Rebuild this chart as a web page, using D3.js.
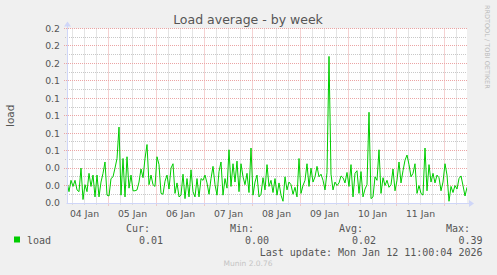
<!DOCTYPE html>
<html>
<head>
<meta charset="utf-8">
<script src="https://cdn.jsdelivr.net/npm/d3@7"></script>
<style>
  body { margin: 0; background: #f0f0f0; }
  svg { display: block; }
</style>
</head>
<body>
<svg id="chart" width="497" height="275"></svg>
<script>
// hourly load average, starting 04 Jan 2026 03:15 UTC
var loadValues = [
    0.024, 0.013, 0.026, 0.019, 0.026, 0.015, 0.013, 0.040, 0.004, 0.021,
    0.013, 0.034, 0.019, 0.032, 0.007, 0.032, 0.007, 0.024, 0.034, 0.047,
    0.009, 0.008, 0.028, 0.030, 0.040, 0.051, 0.087, 0.009, 0.051, 0.007,
    0.053, 0.017, 0.032, 0.014,
    0.014, 0.015, 0.024, 0.039, 0.029, 0.051, 0.067, 0.021, 0.032, 0.021,
    0.019, 0.053, 0.044, 0.011, 0.010, 0.025, 0.032, 0.016, 0.040, 0.045,
    0.011, 0.023, 0.007, 0.009, 0.033, 0.005, 0.028, 0.007, 0.038, 0.013,
    0.007, 0.028, 0.007, 0.028,
    0.026, 0.032, 0.023, 0.010, 0.028, 0.042, 0.021, 0.009, 0.036, 0.047,
    0.009, 0.028, 0.017, 0.061, 0.019, 0.045, 0.024, 0.048, 0.013, 0.045,
    0.030, 0.021, 0.034, 0.012, 0.063, 0.009, 0.024, 0.032, 0.007, 0.010,
    0.029, 0.015, 0.044, 0.019,
    0.026, 0.012, 0.028, 0.009, 0.023, 0.009, 0.002, 0.030, 0.015, 0.024,
    0.021, 0.010, 0.018, 0.007, 0.051, 0.011, 0.020, 0.026, 0.045, 0.019,
    0.040, 0.024, 0.030, 0.042, 0.030, 0.033, 0.026, 0.015, 0.035, 0.168,
    0.033, 0.015, 0.024, 0.020,
    0.023, 0.031, 0.029, 0.023, 0.035, 0.019, 0.044, 0.007, 0.034, 0.037,
    0.011, 0.036, 0.007, 0.016, 0.021, 0.104, 0.005, 0.007, 0.030, 0.026,
    0.061, 0.011, 0.029, 0.020, 0.026, 0.018, 0.021, 0.039, 0.014, 0.026,
    0.047, 0.023, 0.037, 0.049,
    0.055, 0.044, 0.030, 0.034, 0.045, 0.011, 0.020, 0.011, 0.009, 0.063,
    0.014, 0.044, 0.024, 0.034, 0.023, 0.032, 0.029, 0.014, 0.024, 0.045,
    0.032, 0.002, 0.019, 0.012, 0.020, 0.016, 0.028, 0.031, 0.020, 0.008,
    0.018
];
var startTime = Date.UTC(2026, 0, 4, 3, 15);
var stepMs = 3600 * 1000;

var yTicks = [0, 0.02, 0.04, 0.06, 0.08, 0.10, 0.12, 0.14, 0.16, 0.18, 0.20];
var yMinorTicks = [0.01, 0.03, 0.05, 0.07, 0.09, 0.11, 0.13, 0.15, 0.17, 0.19];

var legendHeaders = ['Cur:', 'Min:', 'Avg:', 'Max:'];
var legendValues = ['0.01', '0.00', '0.02', '0.39'];
var lastUpdate = 'Last update: Mon Jan 12 11:00:04 2026';

var data = loadValues.map((v, i) => ({ t: new Date(startTime + i * stepMs), v: v }));

var plot = { left: 67, right: 467, top: 28.5, bottom: 203 };
var sans = 'DejaVu Sans, sans-serif';
var mono = 'DejaVu Sans Mono, monospace';
var textColor = '#555';
var axisColor = '#cfd6f8';

var svg = d3.select('#chart');

var x = d3.scaleUtc()
    .domain([data[0].t, data[data.length - 1].t])
    .range([plot.left, plot.right]);
var y = d3.scaleLinear()
    .domain([0, 0.2])
    .range([plot.bottom, plot.top]);

var crisp = v => Math.round(v - 0.5) + 0.5;

// plot background
svg.append('rect')
    .attr('x', plot.left).attr('y', plot.top)
    .attr('width', plot.right - plot.left).attr('height', plot.bottom - plot.top)
    .attr('fill', '#fff');

var grid = svg.append('g').attr('stroke-width', 1).attr('stroke-dasharray', '1,1');

// minor grid
var sixHours = d3.utcHour.every(6).range(x.domain()[0], x.domain()[1]);
grid.selectAll('.vmin')
    .data(sixHours.filter(d => d.getUTCHours() !== 0))
    .join('line')
    .attr('x1', d => crisp(x(d))).attr('x2', d => crisp(x(d)))
    .attr('y1', plot.top).attr('y2', plot.bottom + 2)
    .attr('stroke', '#c8c8c8');
grid.selectAll('.hmin')
    .data(yMinorTicks)
    .join('line')
    .attr('x1', plot.left - 2).attr('x2', plot.right)
    .attr('y1', d => crisp(y(d))).attr('y2', d => crisp(y(d)))
    .attr('stroke', '#c8c8c8');

// major grid
var midnights = d3.utcDay.range(x.domain()[0], x.domain()[1]);
grid.append('g').selectAll('line')
    .data(midnights)
    .join('line')
    .attr('x1', d => crisp(x(d))).attr('x2', d => crisp(x(d)))
    .attr('y1', plot.top).attr('y2', plot.bottom + 3)
    .attr('stroke', '#eba4a4');
grid.append('g').selectAll('line')
    .data(yTicks.slice(1))
    .join('line')
    .attr('x1', plot.left - 3).attr('x2', plot.right)
    .attr('y1', d => crisp(y(d))).attr('y2', d => crisp(y(d)))
    .attr('stroke', '#eba4a4');

// y labels
svg.append('g').selectAll('text')
    .data(yTicks)
    .join('text')
    .attr('x', 60)
    .attr('y', d => y(d) + 3.3)
    .attr('text-anchor', 'end')
    .attr('font-family', sans).attr('font-size', '9.3px')
    .attr('fill', textColor)
    .text(d => d3.format('.1f')(d));

// x labels at noon
var noons = d3.utcDay.range(d3.utcDay.floor(x.domain()[0]), x.domain()[1])
    .map(d => d3.utcHour.offset(d, 12))
    .filter(d => d >= x.domain()[0] && d <= x.domain()[1]);
svg.append('g').selectAll('text')
    .data(noons)
    .join('text')
    .attr('x', d => x(d))
    .attr('y', 216.5)
    .attr('text-anchor', 'middle')
    .attr('font-family', sans).attr('font-size', '9.3px')
    .attr('fill', textColor)
    .text(d => d3.utcFormat('%d %b')(d));

// data line
svg.append('clipPath').attr('id', 'clip')
    .append('rect')
    .attr('x', plot.left).attr('y', plot.top)
    .attr('width', plot.right - plot.left).attr('height', plot.bottom - plot.top);

var line = d3.line()
    .x(d => x(d.t))
    .y(d => y(d.v));
svg.append('path')
    .datum(data)
    .attr('clip-path', 'url(#clip)')
    .attr('d', line)
    .attr('fill', 'none')
    .attr('stroke', '#00cc00')
    .attr('stroke-width', 1);

// axes with arrows
svg.append('line')
    .attr('x1', plot.left - 0.5).attr('x2', plot.right + 4)
    .attr('y1', crisp(plot.bottom)).attr('y2', crisp(plot.bottom))
    .attr('stroke', axisColor);
svg.append('line')
    .attr('x1', crisp(plot.left)).attr('x2', crisp(plot.left))
    .attr('y1', plot.bottom + 1).attr('y2', plot.top - 5)
    .attr('stroke', axisColor);
svg.append('path')
    .attr('d', `M${plot.right + 2},${crisp(plot.bottom) - 3.5} L${plot.right + 7},${crisp(plot.bottom)} L${plot.right + 2},${crisp(plot.bottom) + 3.5} Z`)
    .attr('fill', axisColor);
svg.append('path')
    .attr('d', `M${crisp(plot.left) - 3.5},${plot.top - 2} L${crisp(plot.left)},${plot.top - 7} L${crisp(plot.left) + 3.5},${plot.top - 2} Z`)
    .attr('fill', axisColor);

// title
svg.append('text')
    .attr('x', 248).attr('y', 24)
    .attr('text-anchor', 'middle')
    .attr('font-family', sans).attr('font-size', '12.5px')
    .attr('fill', textColor)
    .text('Load average - by week');

// vertical label
svg.append('text')
    .attr('transform', 'translate(14,' + ((plot.top + plot.bottom) / 2) + ') rotate(-90)')
    .attr('text-anchor', 'middle')
    .attr('font-family', sans).attr('font-size', '10.5px')
    .attr('fill', textColor)
    .text('load');

// watermark
svg.append('text')
    .attr('transform', 'translate(485,5) rotate(90)')
    .attr('font-family', sans).attr('font-size', '6.5px')
    .attr('fill', '#bbb')
    .text('RRDTOOL / TOBI OETIKER');

// legend
svg.append('rect')
    .attr('x', 14).attr('y', 236.5)
    .attr('width', 6).attr('height', 6)
    .attr('fill', '#00cc00');
svg.append('text')
    .attr('x', 27).attr('y', 243.5)
    .attr('font-family', mono).attr('font-size', '10px')
    .attr('fill', textColor)
    .text('load');

var headerRight = [150, 254, 363, 470];
var valueRight = [163, 269, 376, 482.5];
svg.append('g').selectAll('text')
    .data(legendHeaders)
    .join('text')
    .attr('x', (d, i) => headerRight[i]).attr('y', 231.5)
    .attr('text-anchor', 'end')
    .attr('font-family', mono).attr('font-size', '10px')
    .attr('fill', textColor)
    .text(d => d);
svg.append('g').selectAll('text')
    .data(legendValues)
    .join('text')
    .attr('x', (d, i) => valueRight[i]).attr('y', 243.5)
    .attr('text-anchor', 'end')
    .attr('font-family', mono).attr('font-size', '10px')
    .attr('fill', textColor)
    .text(d => d);
svg.append('text')
    .attr('x', 482.5).attr('y', 255.5)
    .attr('text-anchor', 'end')
    .attr('font-family', mono).attr('font-size', '10px')
    .attr('fill', textColor)
    .text(lastUpdate);

svg.append('text')
    .attr('x', 248).attr('y', 266)
    .attr('text-anchor', 'middle')
    .attr('font-family', sans).attr('font-size', '7.5px')
    .attr('fill', '#c4c4c4')
    .text('Munin 2.0.76');
</script>
</body>
</html>
